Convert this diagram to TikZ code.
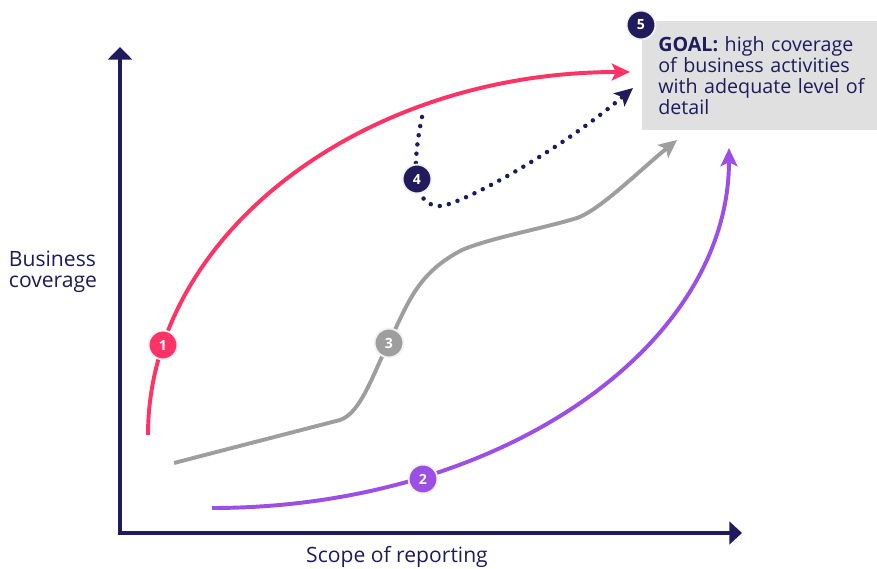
\documentclass[tikz,border=0pt]{standalone}
\usepackage{fontspec}
\setmainfont{Open Sans}
\usepackage{tikz}
\usetikzlibrary{arrows.meta}

\definecolor{navy}{HTML}{1F1B5C}
\definecolor{rosered}{HTML}{FF3366}
\definecolor{violet}{HTML}{9B4FE6}
\definecolor{ashgray}{HTML}{9E9E9E}
\definecolor{boxgray}{HTML}{E0E0E0}

\begin{document}
\begin{tikzpicture}[
        x=0.025cm, y=-0.025cm,
        axis/.style={draw=navy, line width=3pt,
            {Triangle[length=9pt, width=17pt]}-{Triangle[length=9pt, width=16pt]}},
        path line/.style={line width=2.8pt, -{Stealth[length=13pt, width=12pt, inset=3pt]}},
        dotted line/.style={draw=navy, line width=3.2pt, line cap=round,
            dash pattern=on 0pt off 6.6pt,
            -{Stealth[length=13pt, width=12pt, inset=3pt]}},
        badge/.style={circle, fill=#1, draw=white!90!gray, line width=1.3pt,
            minimum size=0.72cm, inner sep=0pt, text=white,
            font=\fontsize{10}{10}\selectfont\bfseries},
        label/.style={text=navy, font=\fontsize{15}{15}\selectfont, align=left},
        goalbox/.style={fill=boxgray, anchor=north west, minimum width=5.875cm,
            minimum height=2.725cm, text width=5.5cm, inner xsep=0.4cm,
            text=navy, font=\fontsize{14}{15}\selectfont, align=left},
    ]
    \useasboundingbox (0,0) rectangle (877,569);

    % axes
    \coordinate (origin) at (120,533);
    \coordinate (ytop) at (120,47);
    \coordinate (xend) at (742,533);
    \draw[axis] (ytop) -- (origin) -- (xend);
    \node[label, anchor=west] (ylabel) at (4,272) {Business\\coverage};
    \node[label] (xlabel) at (397,557) {Scope of reporting};

    % goal
    \node[goalbox] (goal) at (642,21) {\textbf{GOAL:} high coverage\\of business activities\\with adequate level of\\detail};

    % curve 1
    \coordinate (c1s) at (148,435);
    \coordinate (c1e) at (630,72);
    \draw[path line, rosered] (c1s) .. controls (148,235) and (362,72) .. (c1e);

    % curve 2
    \coordinate (c2s) at (212,508);
    \coordinate (c2e) at (729,148);
    \draw[path line, violet] (c2s) .. controls (498,508) and (729,348) .. (c2e);

    % curve 3
    \coordinate (c3s) at (174,463);
    \coordinate (c3e) at (677,140);
    \draw[path line, ashgray] (c3s) -- (340,420)
        .. controls (362,413) and (375,368) .. (392,336)
        .. controls (410,298) and (420,272) .. (462,250)
        .. controls (490,238) and (545,228) .. (577,218)
        .. controls (600,210) and (640,170) .. (c3e);

    % curve 4
    \coordinate (c4s) at (422,117);
    \coordinate (c4e) at (633,88);
    \draw[dotted line] (c4s) .. controls (410,175) and (415,208) .. (442,206)
        .. controls (470,200) and (560,150) .. (c4e);

    % badges
    \node[badge=rosered] (b1) at (163,345) {1};
    \node[badge=violet] (b2) at (423,479) {2};
    \node[badge=ashgray] (b3) at (389,343) {3};
    \node[badge=navy] (b4) at (417,179) {4};
    \node[badge=navy] (b5) at (641,25) {5};
\end{tikzpicture}
\end{document}
